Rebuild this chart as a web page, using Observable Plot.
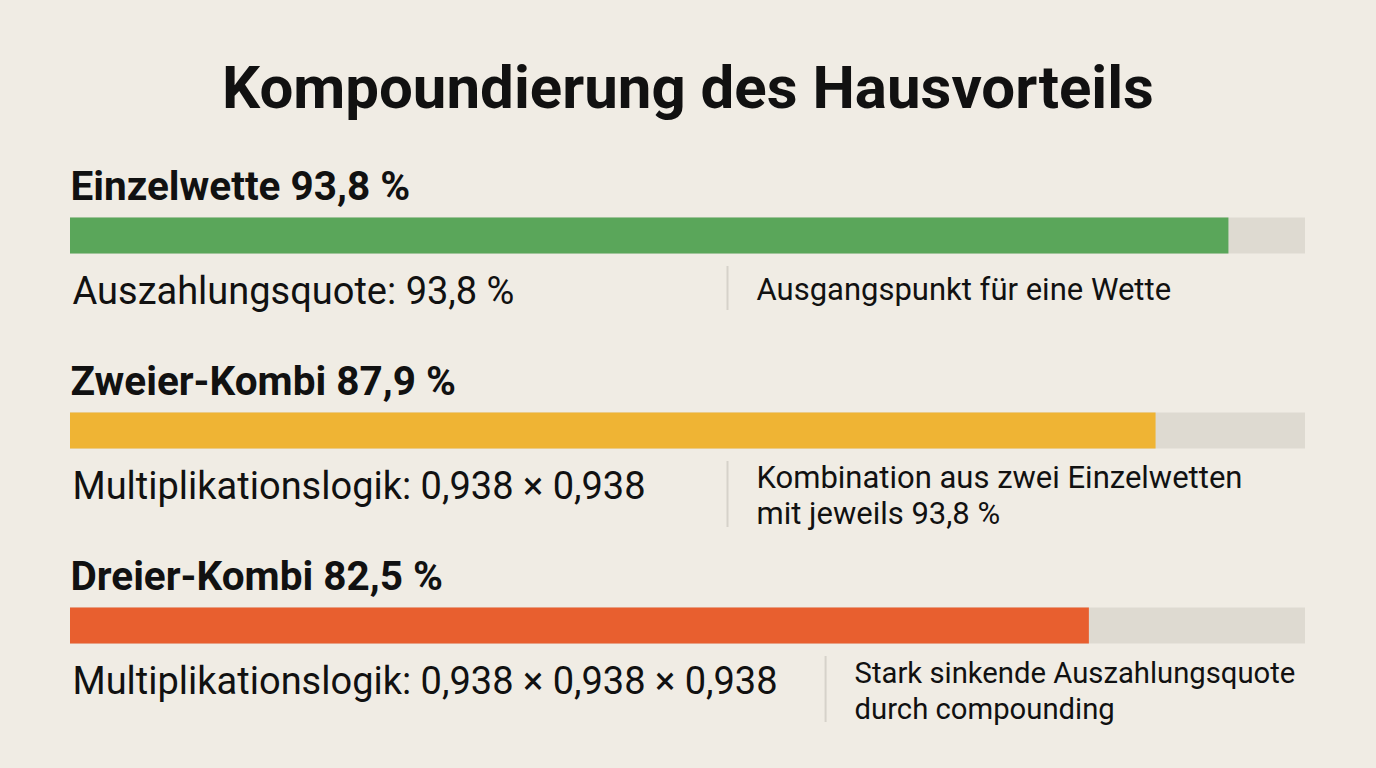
<!DOCTYPE html>
<html>
<head>
<meta charset="utf-8">
<script src="https://cdn.jsdelivr.net/npm/d3@7"></script>
<script src="https://cdn.jsdelivr.net/npm/@observablehq/plot@0.6"></script>
<style>
  html, body { margin: 0; padding: 0; background: #f0ece4; }
  body { width: 1376px; height: 768px; overflow: hidden; font-family: Roboto, "Noto Sans", sans-serif; }
  #title { height: 128px; margin: 0; display: flex; align-items: center; justify-content: center;
           padding-top: 46px; box-sizing: border-box; font-size: 60px; font-weight: 700; color: #111; }
  #chart svg { display: block; }
</style>
</head>
<body>
<h1 id="title">Kompoundierung des Hausvorteils</h1>
<div id="chart"></div>
<script>
// ---- data ----
const rowNames = ["Einzelwette", "Zweier-Kombi", "Dreier-Kombi"];
const payouts = [93.8, 87.9, 82.5];
const headers = ["Einzelwette 93,8 %", "Zweier-Kombi 87,9 %", "Dreier-Kombi 82,5 %"];
const formulas = ["Auszahlungsquote: 93,8 %", "Multiplikationslogik: 0,938 × 0,938", "Multiplikationslogik: 0,938 × 0,938 × 0,938"];
const notes = ["Ausgangspunkt für eine Wette", "Kombination aus zwei Einzelwetten\nmit jeweils 93,8 %", "Stark sinkende Auszahlungsquote\ndurch compounding"];
const colors = ["#5aa65a", "#efb434", "#e85f2f"];

// ---- layout ----
const W = 1376, H = 640, ML = 70, MR = 71;
const subSize = 38, noteSize = 31, noteLimit = 1295;
const ctx = document.createElement("canvas").getContext("2d");
const xs = Plot.scale({x: {domain: [0, 100], range: [ML, W - MR]}});

const data = rowNames.map((name, i) => {
  ctx.font = `${subSize}px Roboto`;
  const end = ML + ctx.measureText(formulas[i]).width;
  const sepPx = Math.max(727, end + 50);
  const notePx = sepPx + 29;
  ctx.font = `${noteSize}px Roboto`;
  const noteW = Math.max(...notes[i].split("\n").map(l => ctx.measureText(l).width));
  let fs = Math.min(noteSize, noteSize * (noteLimit - notePx) / noteW);
  if (!isFinite(fs) || fs <= 0) fs = noteSize;
  return {
    name, value: payouts[i], header: headers[i], formula: formulas[i], note: notes[i],
    color: colors[i], multi: notes[i].includes("\n"), noteFs: fs,
    sep: xs.invert(sepPx), noteX: xs.invert(notePx)
  };
});

const noteMarks = data.map(d => Plot.text([d], {
  x: "noteX", y: "name", text: "note", textAnchor: "start",
  dy: d.multi ? 64 : 53, fontSize: d.noteFs, lineHeight: 36 / d.noteFs, fill: "#111"
}));

const chart = Plot.plot({
  width: W, height: H,
  marginLeft: ML, marginRight: MR, marginTop: 0, marginBottom: 0,
  x: {domain: [0, 100], axis: null},
  y: {type: "point", domain: rowNames, range: [106, 497], padding: 0, axis: null},
  style: {background: "transparent", fontFamily: "Roboto, sans-serif", color: "#111"},
  marks: [
    Plot.ruleY(data, {y: "name", x1: 0, x2: 100, stroke: "#dedad1", strokeWidth: 36}),
    Plot.ruleY(data, {y: "name", x1: 0, x2: "value", stroke: "color", strokeWidth: 36}),
    Plot.text(data, {x: 0, y: "name", text: "header", textAnchor: "start", dy: -48, fontSize: 40.5, fontWeight: 700, fill: "#111"}),
    Plot.text(data, {x: 0, y: "name", text: "formula", textAnchor: "start", dx: 2, dy: 56, fontSize: subSize, fill: "#111"}),
    Plot.ruleX(data.filter(d => !d.multi), {x: "sep", y1: "name", y2: "name", dy: 53, insetTop: -22, insetBottom: -22, stroke: "#d6d2ca", strokeWidth: 2}),
    Plot.ruleX(data.filter(d => d.multi), {x: "sep", y1: "name", y2: "name", dy: 64, insetTop: -33, insetBottom: -33, stroke: "#d6d2ca", strokeWidth: 2}),
    ...noteMarks
  ]
});
document.getElementById("chart").appendChild(chart);
</script>
</body>
</html>
